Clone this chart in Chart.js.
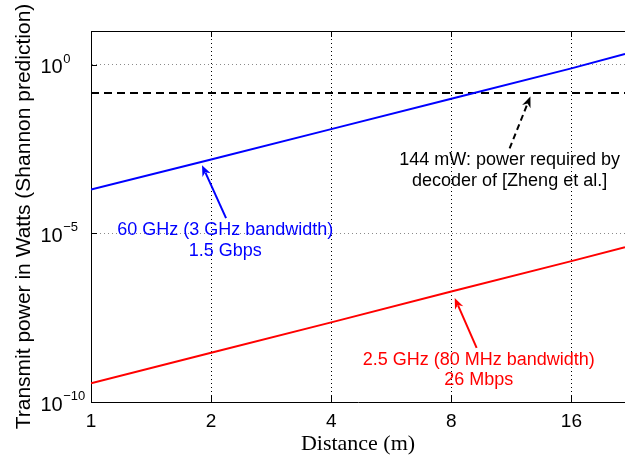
<!DOCTYPE html>
<html><head><meta charset="utf-8">
<script src="https://cdn.jsdelivr.net/npm/chart.js@4/dist/chart.umd.min.js"></script>
<style>html,body{margin:0;padding:0;background:#fff}#wrap{width:625px;height:456px;position:relative}</style>
</head><body><div id="wrap"><canvas id="c" width="625" height="456"></canvas></div>
<script>
// ---- data ----
const distance = [1, 2, 4, 8, 16, 21.8];                       // m
const power60GHz = [2.0e-4, 1.55e-3, 1.23e-2, 9.8e-2, 0.78, 2.1]; // W (3 GHz bandwidth, 1.5 Gbps)
const power2_5GHz = [3.6e-10, 2.9e-9, 2.3e-8, 1.9e-7, 1.5e-6, 3.9e-6]; // W (80 MHz bandwidth, 26 Mbps)
const decoderPower = 0.144; // W, 144 mW
const xTicks = [1, 2, 4, 8, 16];
const yTicks = [1e-10, 1e-5, 1];
const yTickExponents = ['\u221210', '\u22125', '0'];
const xMin = 1, xMax = 21.8, yMin = 1e-10, yMax = 10;

const blueLabel = ['60 GHz (3 GHz bandwidth)', '1.5 Gbps'];
const redLabel = ['2.5 GHz (80 MHz bandwidth)', '26 Mbps'];
const blackLabel = ['144 mW: power required by', 'decoder of [Zheng et al.]'];

// annotation anchors in data coordinates
const notes = [
  {lines: blueLabel, color: '#0000ff', text: [2.17, 1.24e-5], from: [2.18, 2.84e-5], to: [1.898, 1.05e-3], dash: []},
  {lines: redLabel, color: '#ff0000', text: [9.37, 1.78e-9], from: [9.26, 4.0e-9], to: [8.16, 1.22e-7], dash: []},
  {lines: blackLabel, color: '#000000', text: [11.2, 1.47e-3], from: [11.2, 3.3e-3], to: [12.63, 0.115], dash: [6, 4]}
];

const FONT = 'Liberation Sans, Arial, Helvetica, sans-serif';

function drawArrow(ctx, x0, y0, x1, y1, color, dash) {
  const ang = Math.atan2(y1 - y0, x1 - x0);
  const c = Math.cos(ang), s = Math.sin(ang);
  const L = 11, W = 4.5;
  ctx.strokeStyle = color; ctx.fillStyle = color; ctx.lineWidth = 2;
  ctx.setLineDash(dash);
  ctx.beginPath(); ctx.moveTo(x0, y0); ctx.lineTo(x1 - 0.75 * L * c, y1 - 0.75 * L * s); ctx.stroke();
  ctx.setLineDash([]);
  const hx = x1 - L * c, hy = y1 - L * s, px = -s, py = c;
  ctx.beginPath();
  ctx.moveTo(x1, y1);
  ctx.lineTo(hx + W * px, hy + W * py);
  ctx.lineTo(x1 - 0.7 * L * c, y1 - 0.7 * L * s);
  ctx.lineTo(hx - W * px, hy - W * py);
  ctx.closePath(); ctx.fill();
}

const overlay = {
  id: 'overlay',
  afterDatasetsDraw(chart) {
    const {ctx, chartArea: a, scales: {x, y}} = chart;
    ctx.save();
    ctx.strokeStyle = '#000'; ctx.lineWidth = 1; ctx.setLineDash([]);
    // top box edge
    ctx.beginPath(); ctx.moveTo(a.left, a.top + 0.5); ctx.lineTo(a.right, a.top + 0.5); ctx.stroke();
    // inner tick marks
    ctx.beginPath();
    yTicks.forEach(v => { const py = Math.round(y.getPixelForValue(v)) + 0.5; ctx.moveTo(a.left, py); ctx.lineTo(a.left + 6, py); });
    xTicks.forEach(v => { const px = Math.round(x.getPixelForValue(v)) + 0.5; ctx.moveTo(px, a.bottom); ctx.lineTo(px, a.bottom - 6); ctx.moveTo(px, a.top); ctx.lineTo(px, a.top + 6); });
    ctx.stroke();
    // y tick labels 10^n
    ctx.fillStyle = '#000'; ctx.textAlign = 'left'; ctx.textBaseline = 'alphabetic';
    yTicks.forEach((v, i) => {
      const py = y.getPixelForValue(v);
      ctx.font = '20px ' + FONT;
      ctx.fillText('10', 40.5, py + 8.5);
      const w = ctx.measureText('10').width;
      ctx.font = '13px ' + FONT;
      ctx.fillText(yTickExponents[i], 40.5 + w + 0.5, py - 2);
    });
    // annotations
    notes.forEach(n => {
      drawArrow(ctx, x.getPixelForValue(n.from[0]), y.getPixelForValue(n.from[1]),
                x.getPixelForValue(n.to[0]), y.getPixelForValue(n.to[1]), n.color, n.dash);
      ctx.fillStyle = n.color; ctx.font = '18px ' + FONT;
      ctx.textAlign = 'center'; ctx.textBaseline = 'middle';
      const tx = x.getPixelForValue(n.text[0]), ty = y.getPixelForValue(n.text[1]);
      n.lines.forEach((t, k) => ctx.fillText(t, tx, ty + k * 20.5));
    });
    ctx.restore();
  }
};

new Chart(document.getElementById('c'), {
  type: 'line',
  data: {
    datasets: [
      {label: '2.5 GHz', data: distance.map((d, i) => ({x: d, y: power2_5GHz[i]})), borderColor: '#ff0000', borderWidth: 2, pointRadius: 0, tension: 0},
      {label: '60 GHz', data: distance.map((d, i) => ({x: d, y: power60GHz[i]})), borderColor: '#0000ff', borderWidth: 2, pointRadius: 0, tension: 0},
      {label: 'Decoder', data: [{x: xMin, y: decoderPower}, {x: xMax, y: decoderPower}], borderColor: '#000', borderWidth: 2, borderDash: [8, 5], pointRadius: 0}
    ]
  },
  options: {
    responsive: false, animation: false, devicePixelRatio: 1,
    layout: {padding: {top: 31, left: 0, right: 0, bottom: 0}},
    plugins: {legend: {display: false}, tooltip: {enabled: false}},
    scales: {
      x: {
        type: 'logarithmic', min: xMin, max: xMax,
        afterBuildTicks: s => { s.ticks = xTicks.map(v => ({value: v})); },
        afterFit: s => { s.height = 54; },
        grid: {color: c => (c.tick && c.tick.value === xMin) ? 'rgba(0,0,0,0)' : '#000', lineWidth: 1, drawTicks: false},
        border: {display: true, color: '#000', width: 1, dash: [1, 3]},
        ticks: {color: '#000', font: {family: FONT, size: 19}, padding: 8, maxRotation: 0, autoSkip: false, callback: v => String(v)},
        title: {display: true, text: 'Distance (m)', color: '#000', font: {family: 'Liberation Serif, Times New Roman, serif', size: 22, lineHeight: 1}, padding: {top: 0, bottom: 1}}
      },
      y: {
        type: 'logarithmic', min: yMin, max: yMax,
        afterBuildTicks: s => { s.ticks = yTicks.map(v => ({value: v})); },
        afterFit: s => { s.width = 91; },
        grid: {color: c => (c.tick && c.tick.value === yMin) ? 'rgba(0,0,0,0)' : '#8a8a8a', lineWidth: 1, drawTicks: false},
        border: {display: true, color: '#000', width: 1, dash: [1, 3]},
        ticks: {display: false},
        title: {display: true, text: 'Transmit power in Watts (Shannon prediction)', color: '#000', font: {family: FONT, size: 21, lineHeight: 1}, padding: {top: 13.5, bottom: 0}}
      }
    }
  },
  plugins: [overlay]
});
</script></body></html>
